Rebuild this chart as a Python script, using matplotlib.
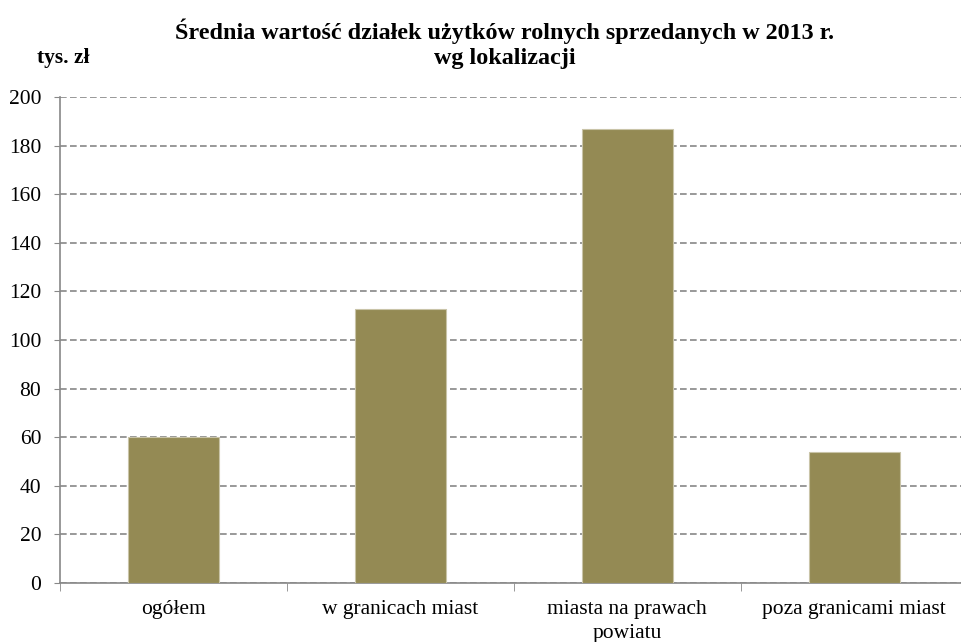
import matplotlib.pyplot as plt
import numpy as np

plt.rcParams['font.family'] = ['Liberation Serif', 'DejaVu Serif']

categories = ["ogółem", "w granicach miast", "miasta na prawach\npowiatu", "poza granicami miast"]
values = [60.1, 112.8, 186.8, 53.8]

fig = plt.figure(figsize=(9.61, 6.42), dpi=100)
ax = fig.add_axes([0.0624, 0.092, 1.007 - 0.0624, 0.849 - 0.092])

x = np.arange(len(categories))
ax.bar(x, values, width=0.4, color='#948A54', edgecolor='#c9c4a8', linewidth=0.8, zorder=3)

ax.set_xlim(-0.5, len(categories) - 0.5)
ax.set_ylim(0, 200)
ax.set_yticks(range(0, 201, 20))
ax.grid(True, axis='y', linestyle=(0, (4, 2)), color='#888888', linewidth=1.2, zorder=0)

ax.set_xticks(x)
ax.set_xticklabels(categories, fontsize=15.5, linespacing=1.35)
ax.set_xticks(np.arange(-0.5, len(categories), 1), minor=True)
ax.tick_params(axis='x', which='major', length=0, pad=12)
ax.tick_params(axis='x', which='minor', length=6, color='#888888')
ax.tick_params(axis='y', length=4.5, color='#888888', labelsize=15.5, pad=9)

for s in ['top', 'right']:
    ax.spines[s].set_visible(False)
for s in ['left', 'bottom']:
    ax.spines[s].set_color('#888888')
    ax.spines[s].set_linewidth(1.2)

fig.text(0.525, 0.932, "Średnia wartość działek użytków rolnych sprzedanych w 2013 r.\nwg lokalizacji",
         ha='center', va='center', fontsize=17.4, fontweight='bold', linespacing=1.3)
fig.text(0.038, 0.91, "tys. zł", ha='left', va='center', fontsize=15.5, fontweight='bold')

plt.savefig("out.png", dpi=100)
